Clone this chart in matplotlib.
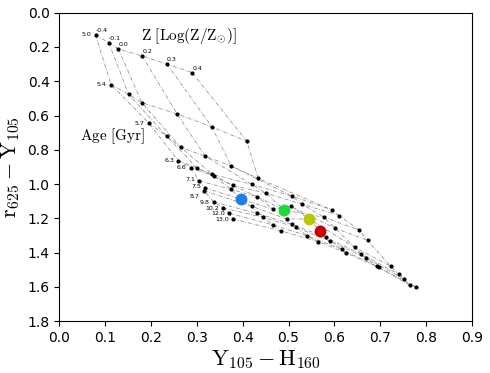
import matplotlib
matplotlib.use("Agg")
import matplotlib.pyplot as plt

plt.rcParams['mathtext.fontset'] = 'cm'

# model grid: one list per metallicity, ages run top to bottom
ages = ["5.0", "5.4", "5.7", "6.3", "6.6", "7.1", "7.5", "8.7", "9.8", "10.2", "12.0", "13.0"]
metals = ["-0.4", "-0.1", "0.0", "0.2", "0.3", "0.4"]

x_m04 = [0.079, 0.113, 0.195, 0.260, 0.287, 0.305, 0.318, 0.316, 0.337, 0.358, 0.371, 0.379]
y_m04 = [0.130, 0.420, 0.644, 0.864, 0.905, 0.981, 1.022, 1.039, 1.105, 1.140, 1.171, 1.204]
x_m01 = [0.108, 0.151, 0.234, 0.300, 0.337, 0.375, 0.396, 0.420, 0.432, 0.445, 0.467, 0.483]
y_m01 = [0.175, 0.476, 0.720, 0.905, 0.953, 1.031, 1.088, 1.130, 1.171, 1.194, 1.239, 1.273]
x_p00 = [0.129, 0.180, 0.265, 0.334, 0.378, 0.432, 0.467, 0.496, 0.508, 0.516, 0.541, 0.565]
y_p00 = [0.212, 0.525, 0.786, 0.943, 1.008, 1.074, 1.148, 1.204, 1.235, 1.253, 1.302, 1.336]
x_p02 = [0.181, 0.257, 0.318, 0.420, 0.452, 0.490, 0.505, 0.545, 0.581, 0.591, 0.616, 0.625]
y_p02 = [0.253, 0.591, 0.837, 1.002, 1.054, 1.152, 1.130, 1.204, 1.311, 1.333, 1.381, 1.401]
x_p03 = [0.235, 0.333, 0.375, 0.507, 0.529, 0.578, 0.601, 0.645, 0.659, 0.669, 0.692, 0.697]
y_p03 = [0.300, 0.667, 0.895, 1.070, 1.117, 1.194, 1.257, 1.370, 1.409, 1.431, 1.479, 1.486]
x_p04 = [0.290, 0.409, 0.434, 0.594, 0.611, 0.654, 0.673, 0.723, 0.741, 0.752, 0.765, 0.778]
y_p04 = [0.350, 0.751, 0.967, 1.150, 1.184, 1.269, 1.329, 1.480, 1.527, 1.555, 1.591, 1.601]

# observed galaxies
obs_x = [0.396, 0.490, 0.545, 0.569]
obs_y = [1.089, 1.152, 1.204, 1.274]
obs_colors = ["#1f7fe8", "#1fdc3c", "#b8c800", "#c80000"]

grid_x = [x_m04, x_m01, x_p00, x_p02, x_p03, x_p04]
grid_y = [y_m04, y_m01, y_p00, y_p02, y_p03, y_p04]

fig = plt.figure(figsize=(4.9, 3.73), dpi=100)
ax = fig.add_axes([0.121, 0.139, 0.842, 0.827])

lstyle = dict(color='0.55', lw=0.55, ls=(0, (5, 2, 1, 2)), zorder=1)
# constant metallicity tracks
for gx, gy in zip(grid_x, grid_y):
    ax.plot(gx, gy, **lstyle)
# constant age lines
for i in range(len(ages)):
    ax.plot([gx[i] for gx in grid_x], [gy[i] for gy in grid_y], **lstyle)

for gx, gy in zip(grid_x, grid_y):
    ax.plot(gx, gy, 'o', color='k', ms=2.0, ls='none', zorder=2)

# small vertical nudges so crowded age labels don't collide
nudge = {"7.1": 1.0, "7.5": 1.0, "8.7": -4.0, "9.8": 0.0}
for i, a in enumerate(ages):
    ax.annotate(a, (x_m04[i], y_m04[i]), xytext=(-3, nudge.get(a, 0)),
                textcoords='offset points', ha='right', va='center', fontsize=4.5)
for j, m in enumerate(metals):
    ax.annotate(m, (grid_x[j][0], grid_y[j][0]), xytext=(0, 1.5), textcoords='offset points',
                ha='left', va='bottom', fontsize=4.5)

for x, y, c in zip(obs_x, obs_y, obs_colors):
    ax.plot(x, y, 'o', color=c, ms=7.5, zorder=3)

ax.text(0.178, 0.136, r"$\mathrm{Z\ [Log(Z/Z_{\odot})]}$", fontsize=11, va='center')
ax.text(0.045, 0.72, r"$\mathrm{Age\ [Gyr]}$", fontsize=11, va='center')

ax.set_xlim(0.0, 0.9)
ax.set_ylim(1.8, 0.0)
ax.set_xticks([i / 10 for i in range(10)])
ax.set_yticks([i / 10 for i in range(0, 19, 2)])
ax.tick_params(labelsize=10)
ax.set_xlabel(r"$\mathrm{Y_{105} - H_{160}}$", fontsize=16, labelpad=2)
ax.set_ylabel(r"$\mathrm{r_{625} - Y_{105}}$", fontsize=16, labelpad=4)

fig.savefig("out.png", dpi=100)
